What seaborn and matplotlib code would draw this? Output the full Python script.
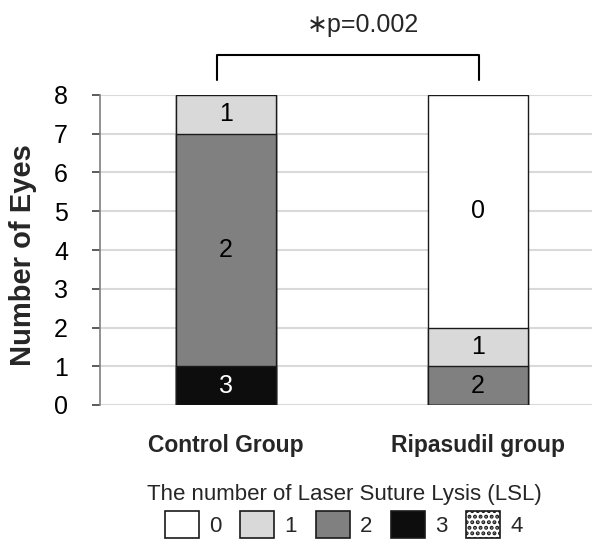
import matplotlib
matplotlib.use("Agg")
import matplotlib.pyplot as plt
from matplotlib.patches import Patch
import seaborn as sns
import numpy as np

# ---- data ----
groups = ["Control Group", "Ripasudil group"]
lsl_levels = ["0", "1", "2", "3", "4"]
lsl0 = [0, 6]
lsl1 = [1, 1]
lsl2 = [6, 1]
lsl3 = [1, 0]
lsl4 = [0, 0]
y_ticks = [0, 1, 2, 3, 4, 5, 6, 7, 8]
p_text = "\u2217p=0.002"
legend_title = "The number of Laser Suture Lysis (LSL)"
y_label = "Number of Eyes"

colors = ["#ffffff", "#d9d9d9", "#808080", "#0d0d0d", "#ffffff"]
text_colors = ["black", "black", "black", "white", "black"]
hatches = [None, None, None, None, "..."]

sns.set_theme(style="white")
plt.rcParams["font.family"] = ["Liberation Sans", "DejaVu Sans"]
plt.rcParams["hatch.linewidth"] = 2.0

fig = plt.figure(figsize=(5.92, 5.47), dpi=100)
ax = fig.add_axes([100 / 592, 142 / 547, 492 / 592, 310 / 547])

counts = np.array([lsl0, lsl1, lsl2, lsl3, lsl4], dtype=float)
# stacking from bottom: level 4, 3, 2, 1, 0 -> cumulative from level k down
cum = np.array([counts[k:].sum(axis=0) for k in range(len(lsl_levels))])

for k in range(len(lsl_levels)):
    sns.barplot(x=groups, y=cum[k], color=colors[k], width=0.4,
                edgecolor="#1a1a1a", linewidth=1.0, ax=ax, saturation=1,
                hatch=hatches[k], zorder=2)

# segment labels
for k in range(len(lsl_levels)):
    for i in range(len(groups)):
        if counts[k, i] > 0:
            top = cum[k, i]
            ax.text(i, top - counts[k, i] / 2, lsl_levels[k], ha="center",
                    va="center", fontsize=18, color=text_colors[k], zorder=5)

ax.set_xlim(-0.5, 1.452)
ax.set_ylim(0, 8)
ax.set_yticks(y_ticks)
ax.yaxis.grid(True, color="#d9d9d9", linewidth=1.5, zorder=0)
ax.set_axisbelow(True)
for s in ["top", "right", "bottom"]:
    ax.spines[s].set_visible(False)
ax.spines["left"].set_color("#7f7f7f")
ax.spines["left"].set_linewidth(1.2)
ax.tick_params(axis="y", which="major", left=True, length=6, width=1.2,
               color="#404040", labelsize=18, pad=17, labelcolor="black")
ax.tick_params(axis="x", bottom=False, pad=15)
for lbl in ax.get_xticklabels():
    lbl.set_fontsize(16.5)
    lbl.set_fontweight("bold")
ax.set_xlabel("")
ax.set_ylabel(y_label, fontsize=21, fontweight="bold")
ax.yaxis.set_label_coords(-0.128, 0.484)

# significance bracket
bx0, bx1, by, bdrop = -0.036, 1.004, 9.03, 8.39
ax.plot([bx0, bx0, bx1, bx1], [bdrop, by, by, bdrop], color="black",
        lw=1.5, clip_on=False)
ax.text(0.544, 9.81, p_text, ha="center", va="center", fontsize=18,
        clip_on=False)

# legend
handles = [Patch(facecolor=colors[k], edgecolor="#1a1a1a", linewidth=1.2,
                 hatch=hatches[k], label=lsl_levels[k]) for k in range(5)]
leg = fig.legend(handles=handles, loc="upper center", ncol=5,
                 bbox_to_anchor=(344 / 592, 1 - 468 / 547), frameon=False,
                 fontsize=16, title=legend_title, title_fontsize=16,
                 handlelength=1.53, handleheight=1.45, handletextpad=0.45,
                 columnspacing=0.85, borderpad=0.2, labelspacing=0.3)

fig.savefig("out.png", dpi=100)
